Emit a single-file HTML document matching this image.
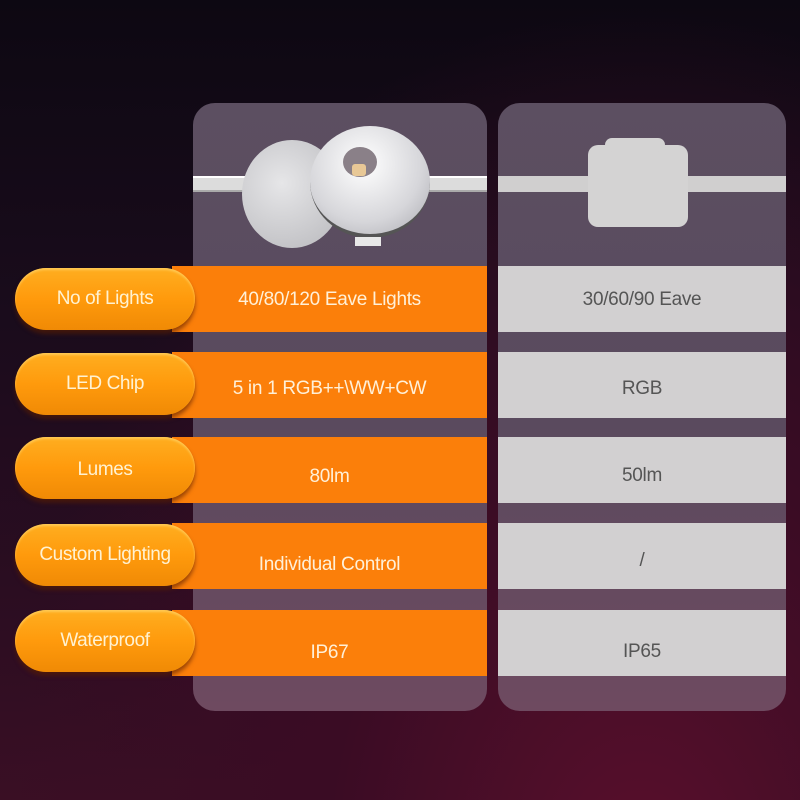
<!DOCTYPE html>
<html><head><meta charset="utf-8"><style>
*{margin:0;padding:0;box-sizing:border-box}
body{width:800px;height:800px;overflow:hidden;position:relative;font-family:"Liberation Sans",sans-serif;
background:radial-gradient(ellipse at 80% 110%,#5a0f2c 0%,#3a0c24 35%,transparent 70%),linear-gradient(180deg,#0d0812 0%,#1a0c1c 40%,#2e0d22 80%,#3a0f24 100%);}
.abs{position:absolute}
.panel{position:absolute;top:103px;height:608px;border-radius:22px;background:linear-gradient(180deg,#5c4f61 0%,#594a5e 50%,#6e4a60 100%)}
.obar{position:absolute;left:172px;width:315px;height:66px;background:#fb7f0a;color:#fff0d8;font-size:19px;text-align:center;display:flex;align-items:center;justify-content:center;letter-spacing:-0.3px}
.gbar{position:absolute;left:498px;width:288px;height:66px;background:#d2d0d1;color:#555;font-size:19px;display:flex;align-items:center;justify-content:center;letter-spacing:-0.3px}
.pill{position:absolute;left:15px;width:180px;height:62px;border-radius:31px;background:linear-gradient(180deg,#ffae20 0%,#ff9a0c 50%,#f08a05 100%);box-shadow:0 4px 4px rgba(90,30,0,.6),inset 0 2px 2px rgba(255,220,120,.6);color:#fff2d2;font-size:19px;display:flex;align-items:center;justify-content:center;letter-spacing:-0.4px}
</style></head><body>
<div class="panel" style="left:193px;width:294px"></div>
<div class="panel" style="left:498px;width:288px"></div>
<div class="abs" style="left:193px;top:176px;width:294px;height:16px;background:#dcdcdc;border-top:2px solid #fff;border-bottom:2px solid #aaa"></div>
<div class="abs" style="left:498px;top:176px;width:288px;height:16px;background:#d0cfcf"></div>
<div class="abs" style="left:242px;top:140px;width:100px;height:108px;border-radius:50%;background:radial-gradient(circle at 40% 40%,#e6e6e8,#b8b8bc);"></div>
<div class="abs" style="left:310px;top:126px;width:120px;height:112px;border-radius:50%;background:radial-gradient(circle at 45% 35%,#ffffff,#d6d6da 60%,#a8a8ae);border-bottom:4px solid #555"></div>
<div class="abs" style="left:343px;top:147px;width:34px;height:30px;border-radius:50%;background:#8a8088"></div>
<div class="abs" style="left:352px;top:164px;width:14px;height:12px;border-radius:3px;background:#e8c896"></div>
<div class="abs" style="left:355px;top:237px;width:26px;height:9px;background:#e8e8e8"></div>
<div class="abs" style="left:588px;top:145px;width:100px;height:82px;border-radius:10px;background:#d4d3d3"></div>
<div class="abs" style="left:605px;top:138px;width:60px;height:14px;border-radius:8px;background:#d4d3d3"></div>
<div class="obar" style="top:266px;padding-top:2px">40/80/120 Eave Lights</div>
<div class="obar" style="top:352px;padding-top:8px">5 in 1 RGB++\WW+CW</div>
<div class="obar" style="top:437px;padding-top:14px">80lm</div>
<div class="obar" style="top:523px;padding-top:18px">Individual Control</div>
<div class="obar" style="top:610px;padding-top:20px">IP67</div>
<div class="gbar" style="top:266px;padding-top:2px">30/60/90 Eave</div>
<div class="gbar" style="top:352px;padding-top:8px">RGB</div>
<div class="gbar" style="top:437px;padding-top:12px">50lm</div>
<div class="gbar" style="top:523px;padding-top:10px">/</div>
<div class="gbar" style="top:610px;padding-top:18px">IP65</div>
<div class="pill" style="top:268px">No of Lights</div>
<div class="pill" style="top:353px">LED Chip</div>
<div class="pill" style="top:437px;padding-top:4px">Lumes</div>
<div class="pill" style="top:524px">Custom Lighting</div>
<div class="pill" style="top:610px">Waterproof</div>
</body></html>
